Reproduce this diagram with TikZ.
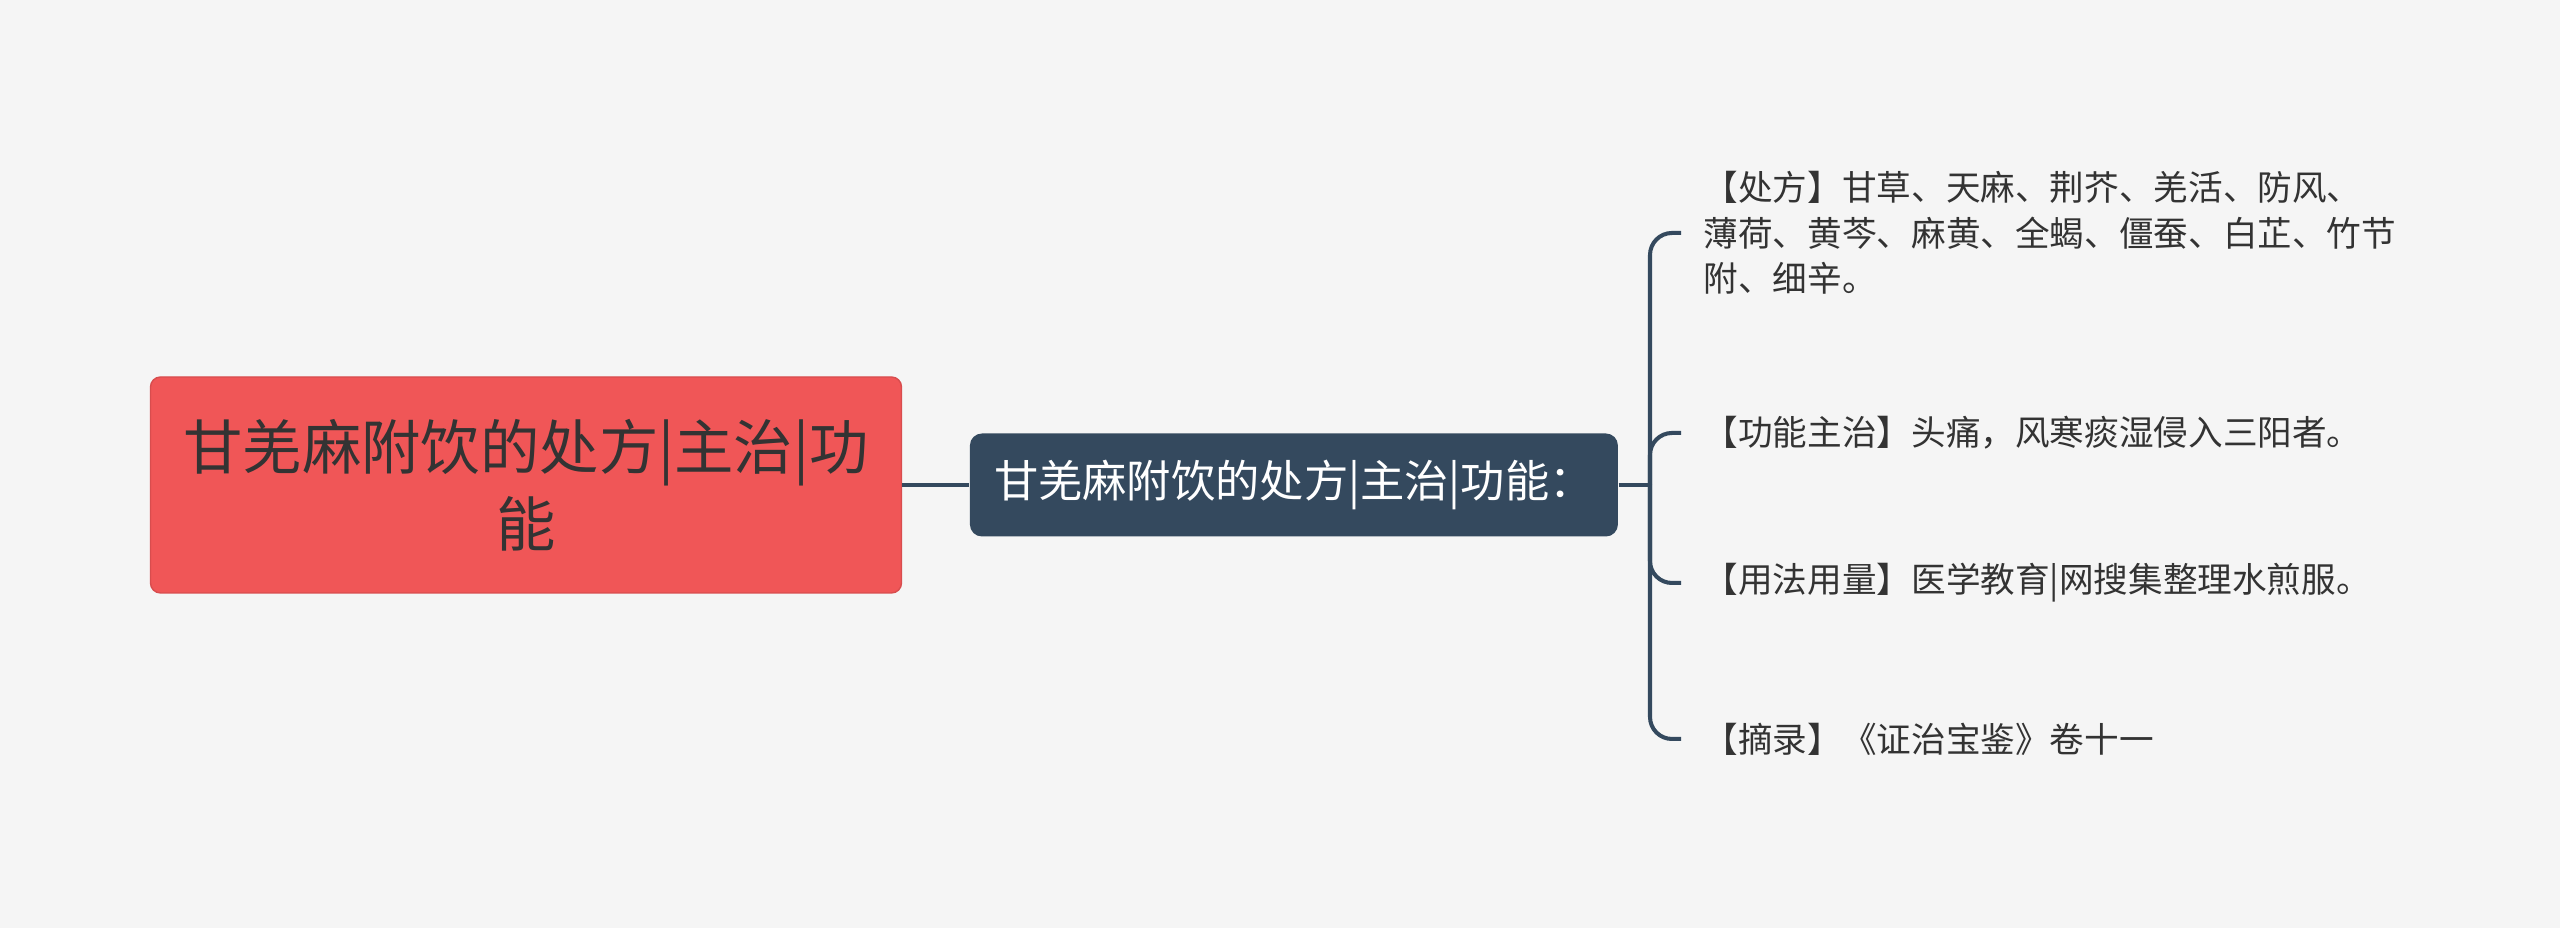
\documentclass[tikz,border=0pt]{standalone}
\usepackage{xcolor}
\usepackage{fontspec}
\usepackage{tikz}
\usetikzlibrary{positioning}
\newfontfamily\cjk{Noto Sans CJK SC}
\definecolor{bgpage}{HTML}{F5F5F5}
\definecolor{rootred}{HTML}{F05657}
\definecolor{navy}{HTML}{34495E}
\definecolor{inkgray}{HTML}{333333}

\begin{document}
\begin{tikzpicture}[
  root/.style={rectangle, draw=rootred!90!black, line width=0.4pt, rounded corners=0.1cm, fill=rootred, minimum width=7.51cm, minimum height=2.16cm, align=center, text=inkgray, font=\cjk\fontsize{16.9}{21.8}\selectfont},
  topic/.style={rectangle, rounded corners=0.12cm, fill=navy, minimum width=6.48cm, minimum height=1.03cm, align=center, text=white, font=\cjk\fontsize{12.6}{15}\selectfont},
  leaf/.style={anchor=west, inner xsep=0.22cm, inner ysep=0pt, align=left, text=inkgray, font=\cjk\fontsize{9.85}{13}\selectfont},
  branch/.style={draw=navy, line width=1.15pt, rounded corners=0.22cm}
]

  \fill[bgpage] (0,0) rectangle (25.6,9.28);

  \node[root] (root) at (5.26,4.43) {甘羌麻附饮的处方|主治|功\\能};
  \node[topic, right=0.67cm of root] (topic) {甘羌麻附饮的处方|主治|功能：};

  \coordinate (fork) at (16.50,4.43);

  \node[leaf] (recipe) at (16.81,6.95) {【处方】甘草、天麻、荆芥、羌活、防风、\\薄荷、黄芩、麻黄、全蝎、僵蚕、白芷、竹节\\附、细辛。};
  \node[leaf] (usage) at (16.81,4.95) {【功能主治】头痛，风寒痰湿侵入三阳者。};
  \node[leaf] (dosage) at (16.81,3.45) {【用法用量】医学教育|网搜集整理水煎服。};
  \node[leaf] (source) at (16.81,1.89) {【摘录】《证治宝鉴》卷十一};

  \draw[branch] (root.east) -- (topic.west);
  \draw[branch] (topic.east) -- (fork);
  \draw[branch] (fork) |- (recipe.west);
  \draw[branch] (fork) |- (usage.west);
  \draw[branch] (fork) |- (dosage.west);
  \draw[branch] (fork) |- (source.west);

\end{tikzpicture}
\end{document}
